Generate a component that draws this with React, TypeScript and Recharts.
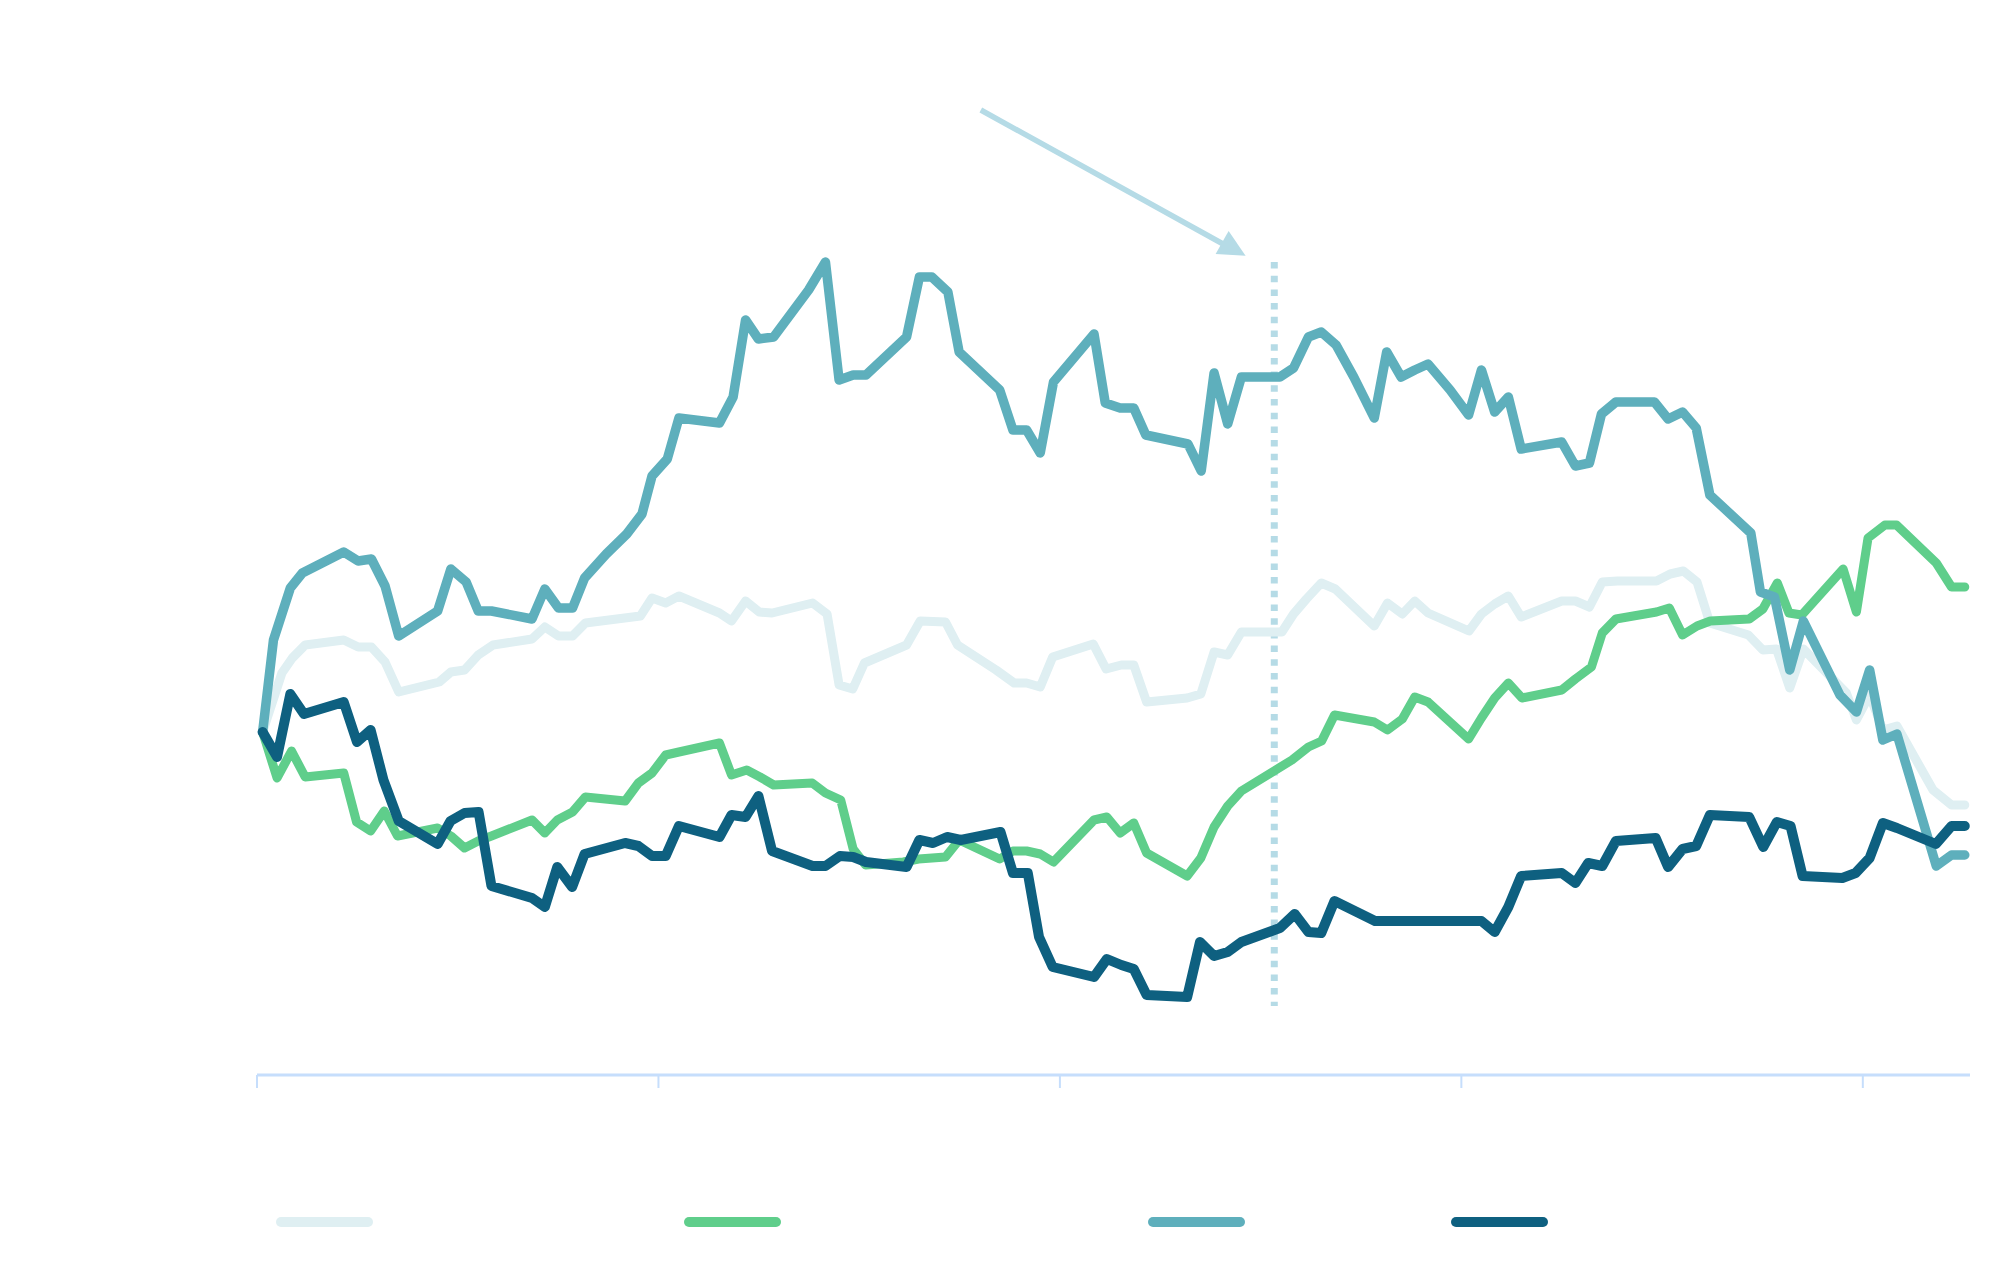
import { LineChart, Line, XAxis, YAxis, Legend, ReferenceLine } from 'recharts';

// Each series is a list of [t, value] points; t runs 0..426 with a tick every 100.
const lightSeries: [number, number][] = [
  [1.4, 34.3], [6.2, 40.2], [8.8, 41.7], [12.0, 43.0], [21.6, 43.5], [25.2, 42.8], [28.5, 42.8], [31.9, 41.3],
  [35.3, 38.3], [45.4, 39.3], [48.3, 40.3], [51.7, 40.5], [55.1, 42.0], [58.8, 43.0], [68.5, 43.6], [71.7, 44.8],
  [75.1, 43.9], [78.6, 43.9], [81.8, 45.2], [95.5, 45.9], [98.4, 47.7], [101.8, 47.2], [105.1, 47.9], [115.2, 46.2],
  [118.2, 45.4], [121.7, 47.4], [125.1, 46.3], [128.3, 46.2], [138.4, 47.2], [142.0, 46.1], [145.0, 39.0], [148.4, 38.6],
  [151.3, 41.2], [161.8, 43.0], [165.2, 45.4], [171.5, 45.3], [174.5, 43.0], [184.1, 40.5], [188.6, 39.2], [191.7, 39.2],
  [195.1, 38.8], [198.2, 41.8], [208.3, 43.1], [211.5, 40.6], [215.3, 41.0], [218.4, 41.0], [221.6, 37.3], [231.7, 37.7],
  [235.1, 38.1], [238.4, 42.3], [241.8, 42.0], [245.2, 44.3], [255.3, 44.3], [258.2, 46.1], [261.4, 47.6], [265.1, 49.2],
  [268.6, 48.6], [278.3, 44.9], [281.6, 47.2], [285.3, 46.1], [288.4, 47.4], [291.7, 46.2], [301.9, 44.4], [305.0, 46.1],
  [308.3, 47.1], [311.7, 47.9], [314.9, 45.8], [325.0, 47.4], [328.4, 47.4], [331.9, 46.8], [335.1, 49.3], [338.9, 49.4],
  [348.6, 49.4], [352.0, 50.1], [355.3, 50.4], [358.7, 49.3], [361.9, 45.2], [371.5, 44.0], [375.1, 42.5], [378.5, 42.6],
  [381.8, 38.7], [385.2, 42.6], [395.9, 38.2], [398.4, 35.5], [401.7, 38.0], [405.0, 34.5], [408.5, 34.9], [417.5, 28.5],
  [422.1, 27.0], [425.4, 27.0],
];

const greenSeries: [number, number][] = [
  [1.4, 34.3], [5.0, 29.7], [8.6, 32.4], [12.0, 29.8], [21.6, 30.2], [24.8, 25.3], [28.3, 24.4], [31.7, 26.4],
  [35.0, 23.9], [45.0, 24.7], [48.3, 23.9], [51.7, 22.7], [55.1, 23.4], [58.4, 23.9], [68.5, 25.5], [71.7, 24.2],
  [74.8, 25.5], [78.6, 26.3], [81.8, 27.8], [91.7, 27.4], [95.0, 29.2], [98.4, 30.2], [101.8, 32.0], [105.1, 32.3],
  [115.2, 33.2], [118.2, 30.0], [122.0, 30.5], [125.3, 29.8], [128.7, 29.0], [138.3, 29.2], [141.6, 28.2], [145.4, 27.5],
  [148.5, 22.6], [151.6, 21.0], [161.0, 21.3], [164.8, 21.6], [171.5, 21.8], [174.9, 23.5], [185.0, 21.6], [188.3, 22.4],
  [191.7, 22.4], [195.1, 22.1], [198.4, 21.3], [208.5, 25.5], [211.7, 25.8], [215.0, 24.2], [218.4, 25.2], [221.6, 22.2],
  [231.7, 19.9], [235.1, 21.7], [238.4, 24.8], [241.8, 26.9], [245.2, 28.4], [257.8, 31.5], [261.9, 32.8], [265.2, 33.4],
  [268.4, 36.0], [278.3, 35.3], [281.6, 34.5], [285.3, 35.6], [288.4, 37.8], [291.7, 37.3], [301.8, 33.6], [305.0, 35.7],
  [308.3, 37.7], [311.7, 39.2], [315.1, 37.7], [325.0, 38.5], [328.4, 39.6], [332.4, 40.8], [335.1, 44.2], [338.5, 45.6],
  [348.6, 46.3], [351.8, 46.7], [355.1, 44.0], [358.7, 44.9], [362.0, 45.4], [371.7, 45.6], [375.1, 46.6], [378.7, 49.2],
  [381.6, 46.2], [384.8, 46.0], [395.1, 50.6], [398.4, 46.3], [401.3, 53.7], [405.5, 55.0], [408.4, 55.0], [418.3, 51.2],
  [422.1, 48.8], [425.4, 48.8],
];

const tealSeries: [number, number][] = [
  [1.4, 34.3], [4.1, 43.5], [8.3, 48.7], [11.3, 50.2], [21.6, 52.3], [25.2, 51.4], [28.5, 51.6], [31.9, 48.9],
  [35.3, 43.9], [45.0, 46.4], [48.3, 50.6], [52.1, 49.3], [55.1, 46.4], [58.4, 46.4], [68.5, 45.6], [71.7, 48.6],
  [75.1, 46.7], [78.6, 46.7], [81.6, 49.7], [87.0, 52.1], [92.1, 54.1], [95.9, 56.1], [98.4, 59.9], [102.2, 61.6],
  [105.1, 65.7], [115.2, 65.2], [118.6, 67.8], [121.7, 75.5], [124.9, 73.6], [128.7, 73.8], [137.4, 78.5], [141.6, 81.3],
  [145.0, 69.5], [148.5, 70.0], [151.7, 70.0], [161.8, 73.8], [165.0, 79.8], [168.1, 79.8], [172.1, 78.3], [174.9, 72.3],
  [185.0, 68.5], [188.3, 64.5], [191.7, 64.5], [195.1, 62.2], [198.4, 69.3], [208.5, 74.1], [211.3, 67.2], [215.0, 66.7],
  [218.4, 66.7], [221.4, 64.0], [231.9, 63.1], [235.2, 60.4], [238.4, 70.2], [241.8, 65.1], [245.2, 69.8], [254.8, 69.8],
  [258.2, 70.7], [261.9, 73.8], [265.1, 74.3], [268.8, 73.0], [273.2, 69.8], [278.3, 65.7], [281.4, 72.3], [285.0, 69.8],
  [288.4, 70.5], [291.7, 71.1], [297.2, 68.5], [301.8, 66.0], [305.0, 70.5], [308.3, 66.3], [311.7, 67.8], [314.9, 62.6],
  [325.0, 63.3], [328.4, 60.9], [331.9, 61.2], [334.9, 66.1], [338.5, 67.3], [348.1, 67.3], [351.5, 65.6], [355.1, 66.3],
  [358.5, 64.7], [361.9, 58.0], [372.1, 54.2], [374.5, 48.3], [378.0, 47.8], [381.8, 40.5], [385.2, 45.4], [394.3, 38.0],
  [398.4, 36.3], [401.7, 40.5], [405.0, 33.5], [408.5, 34.1], [418.3, 20.9], [422.1, 22.0], [425.4, 22.0],
];

const darkSeries: [number, number][] = [
  [1.4, 34.3], [5.0, 31.8], [8.3, 38.1], [11.7, 36.1], [21.6, 37.3], [24.9, 33.3], [28.3, 34.5], [31.5, 29.5],
  [35.3, 25.4], [45.0, 23.1], [48.2, 25.4], [51.7, 26.2], [55.2, 26.3], [58.4, 18.9], [68.5, 17.7], [71.7, 16.8],
  [74.8, 20.8], [78.5, 18.8], [81.6, 22.1], [91.7, 23.2], [95.0, 22.9], [98.4, 21.9], [101.8, 21.9], [105.1, 24.9],
  [115.2, 23.8], [118.2, 26.0], [121.7, 25.8], [124.9, 27.9], [128.3, 22.4], [138.4, 20.9], [141.6, 20.9], [145.2, 21.9],
  [148.5, 21.8], [151.7, 21.3], [161.8, 20.8], [165.0, 23.5], [168.4, 23.2], [171.9, 23.8], [175.3, 23.5], [185.2, 24.3],
  [188.3, 20.2], [192.0, 20.2], [194.8, 13.8], [198.2, 10.8], [208.5, 9.8], [211.7, 11.6], [215.3, 11.0], [218.4, 10.6],
  [221.6, 8.0], [231.7, 7.8], [234.9, 13.3], [238.4, 11.9], [241.8, 12.3], [245.2, 13.3], [254.8, 14.7], [258.5, 16.1],
  [261.9, 14.3], [265.1, 14.2], [268.4, 17.4], [278.5, 15.4], [305.0, 15.4], [308.3, 14.3], [311.7, 16.8], [314.9, 19.9],
  [325.0, 20.2], [328.4, 19.2], [331.6, 21.2], [335.1, 20.9], [338.5, 23.4], [348.4, 23.7], [351.5, 20.8], [355.1, 22.6],
  [358.5, 22.9], [361.9, 26.0], [371.7, 25.8], [375.2, 22.8], [378.6, 25.3], [382.0, 24.9], [385.0, 19.9], [394.9, 19.7],
  [398.2, 20.2], [401.7, 21.7], [405.0, 25.2], [408.5, 24.7], [418.2, 23.1], [422.1, 24.9], [425.4, 24.9],
];

const xTicks = [0, 100, 200, 300, 400];
const markerT = 253.4;
const markerRange: [number, number] = [81.3, 6.9];
const arrowFrom = { t: 180.3, v: 96.5 };
const arrowTo = { t: 241.1, v: 83.0 };

const COLORS = {
  light: '#dfeff2',
  green: '#5fce8b',
  teal: '#5eafbc',
  dark: '#0e6080',
  annotation: '#b5dbe6',
  axis: '#c6defc',
};

const SERIES = [
  { key: 'light', points: lightSeries, color: COLORS.light, width: 9 },
  { key: 'green', points: greenSeries, color: COLORS.green, width: 9 },
  { key: 'teal', points: tealSeries, color: COLORS.teal, width: 9.5 },
  { key: 'dark', points: darkSeries, color: COLORS.dark, width: 10 },
];

const LEGEND_LEFT = [268, 676, 1140, 1443];

function toRows(points: [number, number][]) {
  return points.map(([t, v]) => ({ t, v }));
}

// tick labels are not shown, only the tick marks
function BlankTick() {
  return <g />;
}

function LegendSwatches() {
  return (
    <div style={{ position: 'relative', height: 40 }}>
      {SERIES.map((s, i) => (
        <div
          key={s.key}
          style={{
            position: 'absolute',
            left: LEGEND_LEFT[i],
            top: 15,
            width: 97,
            height: 10,
            borderRadius: 5,
            background: s.color,
          }}
        />
      ))}
    </div>
  );
}

function Arrow(props: any) {
  const { x1, y1, x2, y2 } = props;
  const head = `${x2 + 3.7},${y2 - 14} ${x2 - 9.3},${y2 + 9} ${x2 + 20.7},${y2 + 10.7}`;
  return (
    <g>
      <line x1={x1} y1={y1} x2={x2} y2={y2} stroke={COLORS.annotation} strokeWidth={5.5} />
      <polygon points={head} fill={COLORS.annotation} />
    </g>
  );
}

export default function App() {
  return (
    <LineChart width={2000} height={1250} margin={{ top: 67, right: 38, bottom: 16, left: 249 }}>
      <XAxis
        type="number"
        dataKey="t"
        domain={[0, 426.7]}
        ticks={xTicks}
        allowDataOverflow
        tick={BlankTick}
        tickSize={13}
        height={127}
        axisLine={{ stroke: COLORS.axis, strokeWidth: 3 }}
        tickLine={{ stroke: COLORS.axis, strokeWidth: 2 }}
      />
      <YAxis type="number" dataKey="v" domain={[0, 100]} hide />
      <Legend
        verticalAlign="bottom"
        content={() => <LegendSwatches />}
        wrapperStyle={{ left: 0, width: 2000 }}
      />
      <ReferenceLine
        segment={[{ x: markerT, y: markerRange[0] }, { x: markerT, y: markerRange[1] }]}
        stroke={COLORS.annotation}
        strokeWidth={7}
        strokeDasharray="6.5 7.2"
        ifOverflow="visible"
      />
      <ReferenceLine
        segment={[{ x: arrowFrom.t, y: arrowFrom.v }, { x: arrowTo.t, y: arrowTo.v }]}
        shape={Arrow}
        ifOverflow="visible"
      />
      {SERIES.map((s) => (
        <Line
          key={s.key}
          data={toRows(s.points)}
          dataKey="v"
          type="linear"
          stroke={s.color}
          strokeWidth={s.width}
          strokeLinecap="round"
          strokeLinejoin="round"
          dot={false}
          activeDot={false}
          isAnimationActive={false}
        />
      ))}
    </LineChart>
  );
}
